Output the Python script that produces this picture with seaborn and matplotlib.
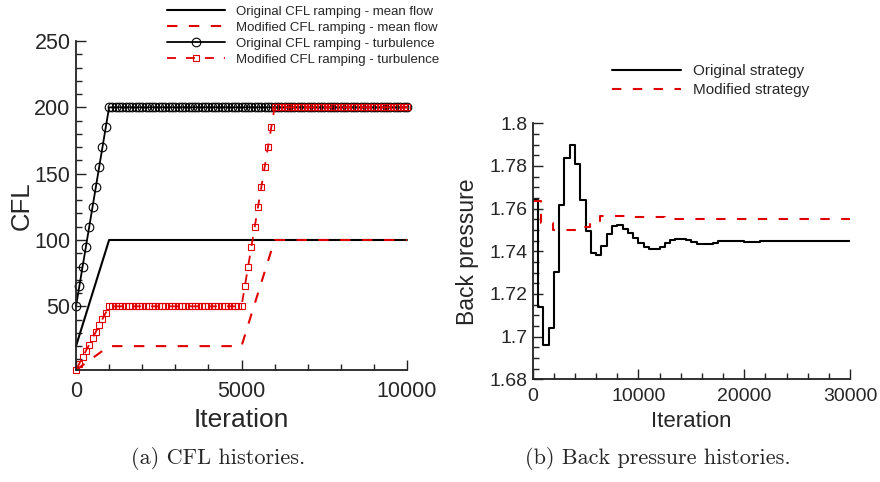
import numpy as np
import pandas as pd
import matplotlib
matplotlib.use("Agg")
import matplotlib.pyplot as plt
import seaborn as sns
from matplotlib.ticker import MultipleLocator, FuncFormatter

# ---------------- data ----------------
# (a) CFL ramping schedules: breakpoints (iteration, CFL)
iter_orig_mean = [0, 1000, 10000]
cfl_orig_mean = [20, 100, 100]
iter_mod_mean = [0, 1000, 5000, 6000, 10000]
cfl_mod_mean = [2, 20, 20, 100, 100]
iter_orig_turb = [0, 1000, 10000]
cfl_orig_turb = [50, 200, 200]
iter_mod_turb = [0, 1000, 5000, 6000, 10000]
cfl_mod_turb = [2, 50, 50, 200, 200]
symbol_iters = list(range(0, 10001, 100))  # turbulence CFL sampled every 100 iterations

labels_a = ["Original CFL ramping - mean flow", "Modified CFL ramping - mean flow",
            "Original CFL ramping - turbulence", "Modified CFL ramping - turbulence"]

# (b) back pressure histories (value held from each update iteration)
bp_iter_orig = list(range(0, 30001, 500))
bp_orig = [1.764, 1.714, 1.696, 1.704, 1.7305, 1.7615, 1.7838, 1.7898, 1.7808, 1.764,
           1.7495, 1.7393, 1.7383, 1.7427, 1.748, 1.7518, 1.7521, 1.7506, 1.7487, 1.7462,
           1.744, 1.7418, 1.741, 1.7412, 1.742, 1.744, 1.7455, 1.746, 1.7459, 1.7452,
           1.7443, 1.7436, 1.7432, 1.7435, 1.744, 1.7446, 1.7449, 1.745, 1.7449, 1.7447,
           1.7445, 1.7444, 1.7445, 1.7446, 1.7446, 1.7446, 1.7446, 1.7446, 1.7446, 1.7446,
           1.7446, 1.7446, 1.7446, 1.7446, 1.7446, 1.7446, 1.7446, 1.7446, 1.7446, 1.7446,
           1.7446]
bp_iter_mod = [0, 750, 1950, 4950, 5450, 6400, 9500, 12500, 30000]
bp_mod = [1.7638, 1.7535, 1.7499, 1.7512, 1.754, 1.7566, 1.756, 1.7552, 1.7552]
labels_b = ["Original strategy", "Modified strategy"]

# ---------------- style ----------------
sns.set_style("ticks")
plt.rcParams["font.family"] = ["Liberation Sans", "DejaVu Sans"]
RED = "#e00000"
SPINE = "#222222"

fig = plt.figure(figsize=(8.8, 4.82), dpi=100)
W, H = 880, 482
ax1 = fig.add_axes([76 / W, 1 - 370 / H, (407 - 76) / W, (370 - 41) / H])
ax2 = fig.add_axes([532.7 / W, 1 - 379.3 / H, (850 - 532.7) / W, (379.3 - 123.3) / H])

# ---------------- (a) ----------------
sym_orig = np.interp(symbol_iters, iter_orig_turb, cfl_orig_turb)
sym_mod = np.interp(symbol_iters, iter_mod_turb, cfl_mod_turb)

sns.lineplot(x=iter_orig_mean, y=cfl_orig_mean, ax=ax1, color="black", lw=1.5,
             estimator=None, sort=False, label=labels_a[0], clip_on=False)
sns.lineplot(x=iter_mod_mean, y=cfl_mod_mean, ax=ax1, color=RED, lw=1.5,
             estimator=None, sort=False, label=labels_a[1], clip_on=False)
ax1.lines[-1].set_dashes((5, 5.5))
sns.lineplot(x=symbol_iters, y=sym_orig, ax=ax1, color="black", lw=1.3,
             marker="o", markersize=6.2, markerfacecolor="none", markeredgecolor="black",
             markeredgewidth=0.8, estimator=None, sort=False, label=labels_a[2], clip_on=False)
sns.lineplot(x=symbol_iters, y=sym_mod, ax=ax1, color=RED, lw=1.3,
             marker="s", markersize=5, markerfacecolor="none", markeredgecolor=RED,
             markeredgewidth=0.8, estimator=None, sort=False, label=labels_a[3], clip_on=False)
ax1.lines[-1].set_dashes((5, 5.5))

ax1.set_xlim(0, 10000)
ax1.set_ylim(2, 250)
ax1.xaxis.set_major_locator(MultipleLocator(5000))
ax1.xaxis.set_minor_locator(MultipleLocator(1000))
ax1.yaxis.set_major_locator(MultipleLocator(50))
ax1.yaxis.set_minor_locator(MultipleLocator(10))
ax1.set_xlabel("Iteration", fontsize=19, labelpad=4)
ax1.set_ylabel("CFL", fontsize=18.5, labelpad=0)
ax1.tick_params(axis="both", which="major", direction="in", length=7, width=1,
                labelsize=15.5, color=SPINE)
ax1.tick_params(axis="both", which="minor", direction="in", length=4, width=1, color=SPINE)
ax1.tick_params(axis="x", which="major", pad=8)
ax1.tick_params(axis="y", which="major", pad=4)

h, l = ax1.get_legend_handles_labels()
ax1.legend(h, l, loc="upper left", bbox_to_anchor=(167 / W, 1 - 5.5 / H),
           bbox_transform=fig.transFigure, frameon=False, fontsize=9.5,
           handlelength=4.4, handletextpad=0.85, labelspacing=0.28,
           borderpad=0, borderaxespad=0)

# ---------------- (b) ----------------
sns.lineplot(x=bp_iter_orig, y=bp_orig, ax=ax2, color="black", lw=1.5,
             drawstyle="steps-post", estimator=None, sort=False, label=labels_b[0])
sns.lineplot(x=bp_iter_mod, y=bp_mod, ax=ax2, color=RED, lw=1.5,
             drawstyle="steps-post", estimator=None, sort=False, label=labels_b[1])
ax2.lines[-1].set_dashes((4.5, 5.5))

ax2.set_xlim(0, 30000)
ax2.set_ylim(1.68, 1.8)
ax2.xaxis.set_major_locator(MultipleLocator(10000))
ax2.xaxis.set_minor_locator(MultipleLocator(2000))
ax2.yaxis.set_major_locator(MultipleLocator(0.02))
ax2.yaxis.set_minor_locator(MultipleLocator(0.005))
ax2.yaxis.set_major_formatter(FuncFormatter(lambda v, p: f"{v:g}"))
ax2.set_xlabel("Iteration", fontsize=16, labelpad=4)
ax2.set_ylabel("Back pressure", fontsize=16.5, labelpad=7)
ax2.tick_params(axis="both", which="major", direction="in", length=7, width=1,
                labelsize=14, color=SPINE)
ax2.tick_params(axis="both", which="minor", direction="in", length=4, width=1, color=SPINE)
ax2.tick_params(axis="x", which="major", pad=6.5)
ax2.tick_params(axis="y", which="major", pad=4)

h, l = ax2.get_legend_handles_labels()
ax2.legend(h, l, loc="upper left", bbox_to_anchor=(612 / W, 1 - 64 / H),
           bbox_transform=fig.transFigure, frameon=False, fontsize=11,
           handlelength=4.5, handletextpad=0.8, labelspacing=0.35,
           borderpad=0, borderaxespad=0)

for ax in (ax1, ax2):
    for s in ("top", "right"):
        ax.spines[s].set_visible(False)
    for s in ("left", "bottom"):
        ax.spines[s].set_linewidth(1.3)
        ax.spines[s].set_color(SPINE)

# captions
fig.text(218 / W, 1 - 458 / H, "(a) CFL histories.", ha="center", va="center",
         family="cmr10", fontsize=16)
fig.text(658 / W, 1 - 458 / H, "(b) Back pressure histories.", ha="center", va="center",
         family="cmr10", fontsize=16)

fig.savefig("out.png", dpi=100)
